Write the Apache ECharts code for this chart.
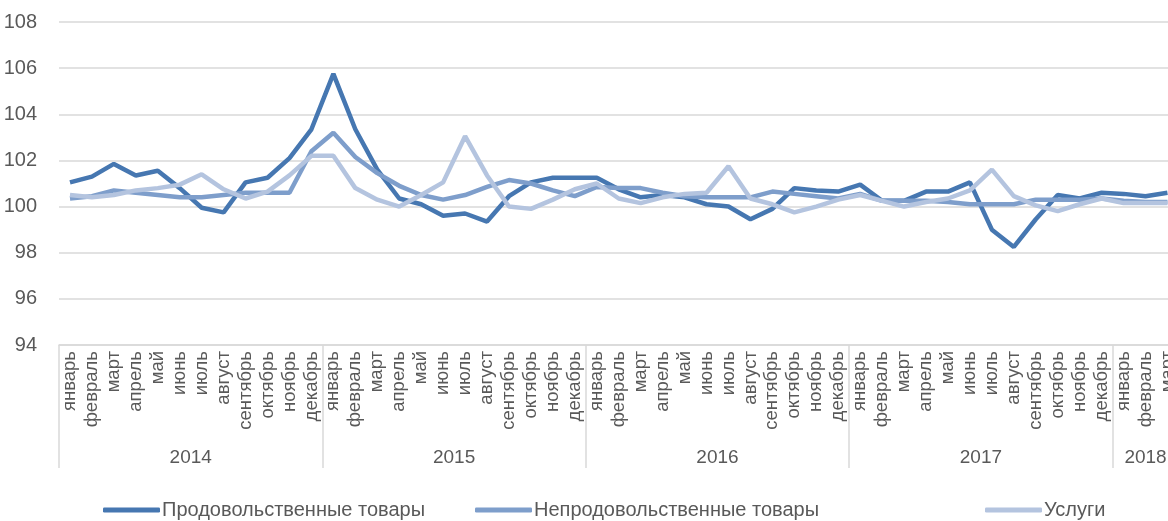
<!DOCTYPE html>
<html lang="ru">
<head>
    <meta charset="UTF-8">
    <title>Индексы цен</title>
    <script src="https://cdn.jsdelivr.net/npm/echarts@6.0.0/dist/echarts.min.js"></script>
    <style type="text/css">
        html, body { margin: 0; padding: 0; background: #fff; }
        #chart { width: 1168px; height: 521px; }
    </style>
</head>
<body>
<div id="chart"></div>
<script>
    // подписи
    var monthNames = ['январь', 'февраль', 'март', 'апрель', 'май', 'июнь',
        'июль', 'август', 'сентябрь', 'октябрь', 'ноябрь', 'декабрь'];
    var years = ['2014', '2015', '2016', '2017', '2018'];
    var monthsPerYear = [12, 12, 12, 12, 3];
    var yTicks = [94, 96, 98, 100, 102, 104, 106, 108];

    // значения по месяцам
    var food = [101.05, 101.3, 101.85, 101.35, 101.55, 100.8, 99.95, 99.75, 101.05, 101.25, 102.1, 103.35,
        105.75, 103.35, 101.6, 100.35, 100.1, 99.6, 99.7, 99.35, 100.45, 101.05, 101.25, 101.25,
        101.25, 100.75, 100.4, 100.5, 100.4, 100.1, 100.0, 99.45, 99.9, 100.8, 100.7, 100.65,
        100.95, 100.25, 100.25, 100.65, 100.65, 101.05, 99.0, 98.25, 99.45, 100.5, 100.35, 100.6,
        100.55, 100.45, 100.6];
    var nonFood = [100.35, 100.45, 100.7, 100.6, 100.5, 100.4, 100.4, 100.5, 100.6, 100.6, 100.6, 102.4,
        103.2, 102.15, 101.45, 100.9, 100.5, 100.3, 100.5, 100.85, 101.15, 101.0, 100.7, 100.45,
        100.85, 100.8, 100.8, 100.6, 100.45, 100.4, 100.4, 100.4, 100.65, 100.55, 100.45, 100.35,
        100.55, 100.25, 100.25, 100.25, 100.2, 100.1, 100.1, 100.1, 100.3, 100.3, 100.3, 100.35,
        100.25, 100.2, 100.2];
    var services = [100.5, 100.4, 100.5, 100.7, 100.8, 100.95, 101.4, 100.75, 100.35, 100.65, 101.35, 102.2,
        102.2, 100.8, 100.3, 100.0, 100.5, 101.05, 103.05, 101.35, 100.0, 99.9, 100.3, 100.75,
        101.0, 100.35, 100.15, 100.4, 100.55, 100.6, 101.75, 100.35, 100.1, 99.75, 100.0, 100.3,
        100.5, 100.25, 100.0, 100.2, 100.35, 100.7, 101.6, 100.45, 100.05, 99.8, 100.1, 100.35,
        100.15, 100.15, 100.15];

    var seriesNames = ['Продовольственные товары', 'Непродовольственные товары', 'Услуги'];
    var seriesColors = ['#4677b1', '#7e9ecb', '#b4c4df'];

    // категории и границы годов
    var categories = [];
    var yearBounds = [0];
    var yearMids = [];
    var pos = 0;
    for (var y = 0; y < years.length; y++) {
        for (var m = 0; m < monthsPerYear[y]; m++) {
            categories.push(monthNames[m]);
        }
        yearMids.push(pos + monthsPerYear[y] / 2);
        pos += monthsPerYear[y];
        yearBounds.push(pos);
    }
    var total = categories.length;

    function yearByPos(v) {
        for (var i = 0; i < yearMids.length; i++) {
            if (Math.abs(yearMids[i] - v) < 0.01) return years[i];
        }
        return '';
    }

    var font = 'Liberation Sans, Arial, sans-serif';
    var grey = '#595959';
    var lineGrey = '#d9d9d9';

    var myChart = echarts.init(document.getElementById('chart'));
    var option = {
        animation: false,
        grid: {left: 59, top: 22, height: 323, width: total * 21.95, outerBoundsMode: 'none', containLabel: false},
        legend: [0, 1, 2].map(function (i) {
            return {
                data: [seriesNames[i]],
                left: [103, 475, 985][i],
                top: 500,
                padding: 0,
                icon: 'roundRect',
                itemWidth: 57,
                itemHeight: 5,
                itemGap: 0,
                textStyle: {fontFamily: font, fontSize: 20, color: grey, padding: [0, 0, 0, -3]}
            };
        }),
        xAxis: [
            {
                type: 'category',
                data: categories,
                boundaryGap: true,
                axisLine: {lineStyle: {color: lineGrey, width: 1.5}},
                axisTick: {show: false},
                axisLabel: {
                    interval: 0,
                    rotate: 90,
                    margin: 6,
                    fontFamily: font,
                    fontSize: 18.5,
                    color: grey
                }
            },
            {
                type: 'value',
                min: 0,
                max: total,
                position: 'bottom',
                axisLine: {show: false},
                splitLine: {show: false},
                axisTick: {
                    show: true,
                    customValues: yearBounds,
                    length: 123,
                    lineStyle: {color: lineGrey, width: 1.5}
                },
                axisLabel: {
                    customValues: yearMids,
                    margin: 103,
                    fontFamily: font,
                    fontSize: 19,
                    color: grey,
                    formatter: function (v) { return yearByPos(v); }
                }
            }
        ],
        yAxis: {
            type: 'value',
            min: yTicks[0],
            max: yTicks[yTicks.length - 1],
            interval: 2,
            axisLine: {show: false},
            axisTick: {show: false},
            splitLine: {lineStyle: {color: lineGrey, width: 1.5}},
            axisLabel: {margin: 22, fontFamily: font, fontSize: 20, color: grey}
        },
        series: [food, nonFood, services].map(function (d, i) {
            return {
                name: seriesNames[i],
                type: 'line',
                data: d,
                symbol: 'none',
                color: seriesColors[i],
                lineStyle: {width: 4.5, color: seriesColors[i]}
            };
        })
    };
    myChart.setOption(option);
</script>
</body>
</html>
